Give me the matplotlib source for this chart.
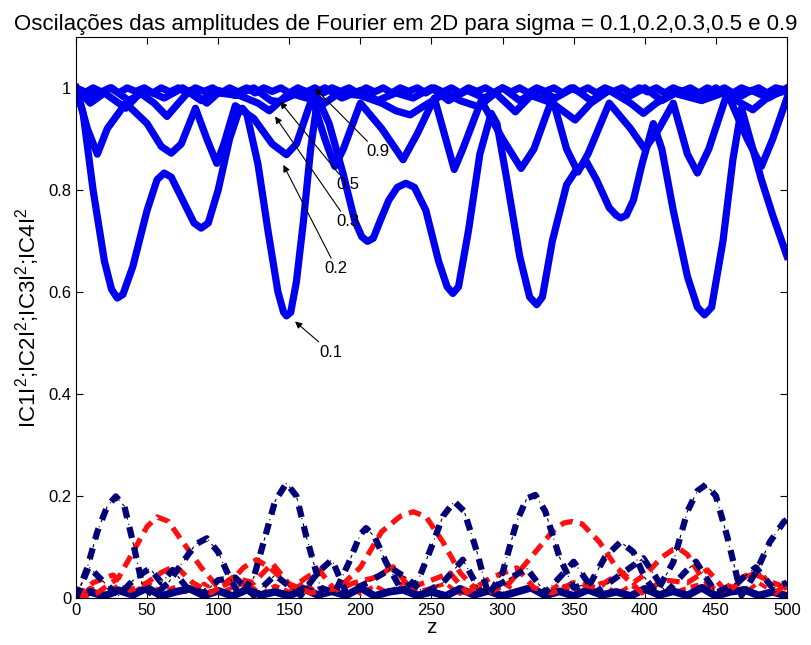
"""Amplitudes de Fourier |C1|^2 ... |C4|^2 em 2D para varios sigma."""

import numpy as np
from matplotlib import pyplot as plt

plt.rcParams['font.family'] = ['Liberation Sans', 'DejaVu Sans']
plt.rcParams['mathtext.fontset'] = 'custom'
plt.rcParams['mathtext.rm'] = 'Liberation Sans'

# |C1|^2, sigma = 0.1
z_s01 = [0, 5, 12, 20, 25, 29, 33, 40, 50, 57, 62, 67, 75, 83, 88, 93, 100, 108,
         114, 117, 120, 128, 135, 142, 146, 148, 151, 155, 160, 165, 170, 178, 188, 196,
         201, 205, 209, 214, 220, 226, 232, 238, 246, 255, 261, 265, 269, 276, 284, 292, 296,
         303, 312, 319, 324, 328, 335, 345, 352, 359, 366, 375, 380, 383, 387, 392, 398, 406,
         412, 420, 430, 437, 442, 447, 455, 462, 468, 474, 482, 490, 500]
c1_s01 = [1.0, 0.95, 0.8, 0.66, 0.605, 0.588, 0.595, 0.65, 0.76, 0.82, 0.833, 0.825,
          0.78, 0.735, 0.725, 0.735, 0.8, 0.9, 0.95, 0.96, 0.95, 0.85, 0.72, 0.6,
          0.56, 0.553, 0.56, 0.62, 0.74, 0.88, 0.98, 0.93, 0.83, 0.74, 0.708, 0.699, 0.705,
          0.74, 0.78, 0.805, 0.813, 0.805, 0.76, 0.66, 0.61, 0.597, 0.61, 0.72, 0.87, 0.95,
          0.93, 0.82, 0.67, 0.59, 0.575, 0.59, 0.7, 0.81, 0.84, 0.855, 0.82, 0.765, 0.75,
          0.745, 0.75, 0.78, 0.85, 0.93, 0.88, 0.76, 0.63, 0.57, 0.555, 0.57, 0.7, 0.86,
          0.96, 0.9, 0.82, 0.75, 0.67]

# |C1|^2, sigma = 0.2
z_s02 = [0, 8, 15, 22, 35, 50, 60, 67, 74, 84, 92, 99, 104, 112, 125, 138, 148, 155,
         166, 175, 182, 188, 200, 215, 230, 240, 252, 260, 266, 272, 285, 300, 313,
         322, 335, 345, 353, 360, 375, 390, 400, 410, 420, 430, 437, 445, 458, 472,
         482, 490, 500]
c1_s02 = [1.0, 0.92, 0.87, 0.92, 0.97, 0.93, 0.885, 0.872, 0.89, 0.96, 0.9, 0.852,
          0.89, 0.965, 0.94, 0.89, 0.869, 0.89, 0.98, 0.9, 0.846, 0.88, 0.97, 0.92,
          0.859, 0.91, 0.98, 0.9, 0.84, 0.88, 0.975, 0.9, 0.842, 0.88, 0.98, 0.88,
          0.835, 0.87, 0.97, 0.92, 0.88, 0.92, 0.97, 0.87, 0.833, 0.88, 0.99, 0.9,
          0.846, 0.9, 0.98]

# |C1|^2, sigma = 0.3
z_s03 = [0, 10, 20, 35, 45, 55, 64, 72, 80, 92, 100, 115, 128, 136, 144, 160, 175,
         185, 200, 215, 225, 235, 245, 260, 270, 283, 295, 309, 320, 335, 351, 362,
         375, 390, 399, 408, 420, 440, 455, 476, 488, 500]
c1_s03 = [1.0, 0.97, 0.99, 0.96, 0.99, 0.97, 0.944, 0.97, 0.995, 0.97, 0.99, 0.985,
          0.97, 0.955, 0.975, 0.995, 0.97, 0.99, 0.985, 0.97, 0.955, 0.947, 0.965,
          0.99, 0.975, 0.963, 0.99, 0.953, 0.985, 0.97, 0.937, 0.97, 0.995, 0.97,
          0.95, 0.97, 0.99, 0.975, 0.99, 0.957, 0.985, 0.995]

# |C1|^2, sigma = 0.5
z_s05 = [0, 12, 25, 37, 50, 62, 75, 88, 100, 112, 125, 137, 143, 150, 162, 175, 187,
         200, 212, 225, 237, 250, 262, 275, 287, 300, 312, 325, 337, 350, 362, 375,
         387, 400, 412, 425, 437, 450, 462, 475, 487, 500]
c1_s05 = [1.0, 0.985, 1.0, 0.975, 0.995, 0.98, 1.0, 0.975, 0.995, 0.985, 1.0, 0.975,
          0.973, 0.99, 0.98, 1.0, 0.98, 0.995, 0.975, 0.99, 0.98, 1.0, 0.975, 0.995,
          0.98, 1.0, 0.975, 0.995, 0.98, 1.0, 0.975, 0.995, 0.98, 1.0, 0.975, 0.995,
          0.98, 1.0, 0.975, 0.995, 0.98, 1.0]

# |C1|^2, sigma = 0.9
z_s09 = [0, 6, 12, 18, 24, 30, 36, 42, 48, 54, 60, 66, 72, 78, 84, 90, 96, 102, 108,
         114, 120, 126, 132, 138, 144, 150, 156, 162, 168, 174, 180, 186, 192, 198,
         204, 210, 216, 222, 228, 234, 240, 246, 252, 258, 264, 270, 276, 282, 288,
         294, 300, 306, 312, 318, 324, 330, 336, 342, 348, 354, 360, 366, 372, 378,
         384, 390, 396, 402, 408, 414, 420, 426, 432, 438, 444, 450, 456, 462, 468,
         474, 480, 486, 492, 500]
c1_s09 = [1.0, 0.99, 1.0, 0.992, 1.0, 0.99, 1.0, 0.993, 1.0, 0.99, 1.0, 0.992, 1.0,
          0.99, 1.0, 0.993, 1.0, 0.99, 1.0, 0.992, 1.0, 0.99, 1.0, 0.993, 1.0, 0.99,
          1.0, 0.992, 1.0, 0.99, 1.0, 0.993, 1.0, 0.99, 1.0, 0.992, 1.0, 0.99, 1.0,
          0.993, 1.0, 0.99, 1.0, 0.992, 1.0, 0.99, 1.0, 0.993, 1.0, 0.99, 1.0, 0.992,
          1.0, 0.99, 1.0, 0.993, 1.0, 0.99, 1.0, 0.992, 1.0, 0.99, 1.0, 0.993, 1.0,
          0.99, 1.0, 0.992, 1.0, 0.99, 1.0, 0.993, 1.0, 0.99, 1.0, 0.992, 1.0, 0.99,
          1.0, 0.993, 1.0, 0.99, 1.0, 0.995]

# componentes menores (azul escuro, grande)
z_nb = [0, 8, 15, 22, 28, 34, 40, 47, 55, 65, 75, 84, 92, 100, 108, 115, 125, 133,
        140, 148, 155, 162, 172, 182, 192, 200, 204, 210, 218, 228, 240, 250, 258,
        266, 273, 282, 290, 300, 310, 317, 323, 330, 340, 350, 362, 372, 383, 392,
        400, 408, 420, 430, 437, 443, 450, 458, 468, 478, 488, 498, 500]
c_nb = [0.0, 0.06, 0.13, 0.18, 0.199, 0.18, 0.11, 0.02, 0.005, 0.03, 0.07, 0.105,
        0.117, 0.09, 0.04, 0.005, 0.04, 0.12, 0.19, 0.225, 0.2, 0.12, 0.02, 0.01,
        0.07, 0.125, 0.137, 0.12, 0.07, 0.02, 0.03, 0.1, 0.16, 0.189, 0.17, 0.09,
        0.005, 0.05, 0.15, 0.195, 0.202, 0.17, 0.08, 0.02, 0.03, 0.08, 0.11, 0.09,
        0.04, 0.01, 0.07, 0.17, 0.21, 0.222, 0.2, 0.12, 0.005, 0.05, 0.11, 0.15, 0.153]

# componentes menores (vermelho, grande)
z_rb = [0, 15, 30, 40, 50, 57, 65, 75, 88, 100, 108, 118, 127, 136, 148, 165, 185,
        200, 215, 228, 237, 246, 258, 270, 280, 290, 305, 320, 335, 343, 349, 356,
        368, 380, 392, 402, 412, 420, 424, 430, 440, 452, 462, 475, 490, 500]
c_rb = [0.0, 0.01, 0.04, 0.09, 0.14, 0.159, 0.15, 0.11, 0.06, 0.02, 0.03, 0.06,
        0.075, 0.06, 0.03, 0.01, 0.02, 0.06, 0.13, 0.16, 0.169, 0.16, 0.11, 0.05,
        0.02, 0.01, 0.03, 0.08, 0.13, 0.147, 0.15, 0.145, 0.11, 0.06, 0.03, 0.05,
        0.08, 0.095, 0.097, 0.085, 0.04, 0.01, 0.03, 0.05, 0.03, 0.02]

# componentes menores (azul escuro, pequeno)
z_ns = [0, 9, 20, 30, 42, 52, 60, 68, 78, 90, 100, 112, 125, 140, 158, 170, 180, 190,
        205, 222, 232, 245, 258, 272, 285, 300, 317, 330, 340, 350, 365, 380, 399,
        415, 428, 436, 450, 465, 478, 490, 500]
c_ns = [0.0, 0.061, 0.03, 0.005, 0.04, 0.058, 0.03, 0.055, 0.02, 0.01, 0.035, 0.04,
        0.005, 0.045, 0.005, 0.05, 0.075, 0.01, 0.03, 0.058, 0.04, 0.01, 0.03, 0.075,
        0.01, 0.03, 0.058, 0.01, 0.04, 0.071, 0.01, 0.04, 0.078, 0.01, 0.05, 0.071,
        0.01, 0.03, 0.06, 0.02, 0.03]

# componentes menores (vermelho, pequeno)
z_rs = [0, 12, 26, 38, 50, 60, 70, 82, 95, 110, 125, 138, 152, 162, 171, 182, 196,
        210, 223, 235, 250, 263, 275, 292, 310, 322, 335, 350, 366, 383, 398, 414,
        430, 444, 458, 470, 481, 492, 500]
c_rs = [0.0, 0.03, 0.045, 0.015, 0.03, 0.05, 0.063, 0.03, 0.01, 0.04, 0.03, 0.068,
        0.02, 0.04, 0.055, 0.015, 0.03, 0.04, 0.061, 0.02, 0.035, 0.049, 0.01, 0.04,
        0.059, 0.02, 0.01, 0.03, 0.02, 0.049, 0.01, 0.035, 0.03, 0.055, 0.01, 0.04,
        0.052, 0.01, 0.03]

# faixa proxima de zero
z_base = [0, 10, 20, 30, 40, 50, 60, 70, 80, 90, 100, 110, 120, 130, 140, 150, 160,
          170, 180, 190, 200, 210, 220, 230, 240, 250, 260, 270, 280, 290, 300, 310,
          320, 330, 340, 350, 360, 370, 380, 390, 400, 410, 420, 430, 440, 450, 460,
          470, 480, 490, 500]
c_base_n = [0.0, 0.012, 0.004, 0.015, 0.006, 0.02, 0.004, 0.012, 0.018, 0.005, 0.014,
            0.004, 0.016, 0.006, 0.012, 0.004, 0.018, 0.006, 0.013, 0.005, 0.02,
            0.004, 0.012, 0.016, 0.005, 0.012, 0.004, 0.018, 0.006, 0.014, 0.004,
            0.012, 0.02, 0.005, 0.013, 0.004, 0.016, 0.006, 0.012, 0.004, 0.018,
            0.006, 0.013, 0.005, 0.02, 0.004, 0.012, 0.016, 0.005, 0.012, 0.004]
c_base_r = [0.0, 0.02, 0.008, 0.025, 0.01, 0.03, 0.012, 0.022, 0.008, 0.028, 0.01,
            0.02, 0.03, 0.008, 0.024, 0.012, 0.03, 0.01, 0.02, 0.028, 0.008, 0.024,
            0.01, 0.03, 0.012, 0.02, 0.028, 0.008, 0.024, 0.01, 0.03, 0.012, 0.022,
            0.008, 0.028, 0.01, 0.02, 0.03, 0.008, 0.024, 0.012, 0.03, 0.01, 0.02,
            0.028, 0.008, 0.024, 0.01, 0.03, 0.012, 0.02]

sigmas = ['0.1', '0.2', '0.3', '0.5', '0.9']
label_tip = [(154, 0.542), (145.8, 0.849), (140, 0.944), (143.5, 0.973), (168, 0.999)]
label_pos = [(171, 0.482), (175, 0.646), (183, 0.738), (183, 0.81), (204, 0.875)]

blue = '#0000f0'
navy = '#000080'
red = '#ff1010'

fig = plt.figure(figsize=(8.12, 6.45), dpi=100)
ax = fig.add_axes([0.0936, 0.0729, 0.8756, 0.870])

for z, c in [(z_s09, c1_s09), (z_s05, c1_s05), (z_s03, c1_s03),
             (z_s02, c1_s02), (z_s01, c1_s01)]:
    ax.plot(z, c, color=blue, lw=5.2, solid_joinstyle='round')

# faixa de fundo
ax.plot(z_base, c_base_r, color=red, lw=3, dashes=(2, 1.2))
ax.plot(z_base, c_base_n, color=navy, lw=5.5)

for z, c in [(z_rs, c_rs), (z_rb, c_rb)]:
    ax.plot(z, c, color=red, lw=3.8, dashes=(2.4, 1.4))

for z, c in [(z_ns, c_ns), (z_nb, c_nb)]:
    ax.plot(z, c, color=navy, lw=4.5, dashes=(1.8, 1.5))
    ax.plot(z, c, color='black', lw=0.8, dashes=(3, 4, 1, 4))

for s, tip, pos in zip(sigmas, label_tip, label_pos):
    ax.annotate(s, xy=tip, xytext=pos, fontsize=12, va='center', ha='left',
                arrowprops=dict(arrowstyle='-|>', color='black', lw=0.8,
                                mutation_scale=10, shrinkA=0, shrinkB=0))

ax.set_xlim(0, 500)
ax.set_ylim(0, 1.1)
ax.set_xticks(np.arange(0, 501, 50))
ax.set_yticks([0, 0.2, 0.4, 0.6, 0.8, 1])
ax.set_yticklabels(['0', '0.2', '0.4', '0.6', '0.8', '1'])
ax.tick_params(direction='in', top=True, right=True, length=5, labelsize=12)
ax.set_xlabel('z', fontsize=15, labelpad=0)
ax.set_ylabel('IC1I$^2$;IC2I$^2$;IC3I$^2$;IC4I$^2$', fontsize=16, labelpad=4)
fig.text(0.5, 0.962, 'Oscilações das amplitudes de Fourier em 2D para sigma = 0.1,0.2,0.3,0.5 e 0.9',
         fontsize=16, ha='center', va='center')

plt.savefig('out.png', dpi=100)
